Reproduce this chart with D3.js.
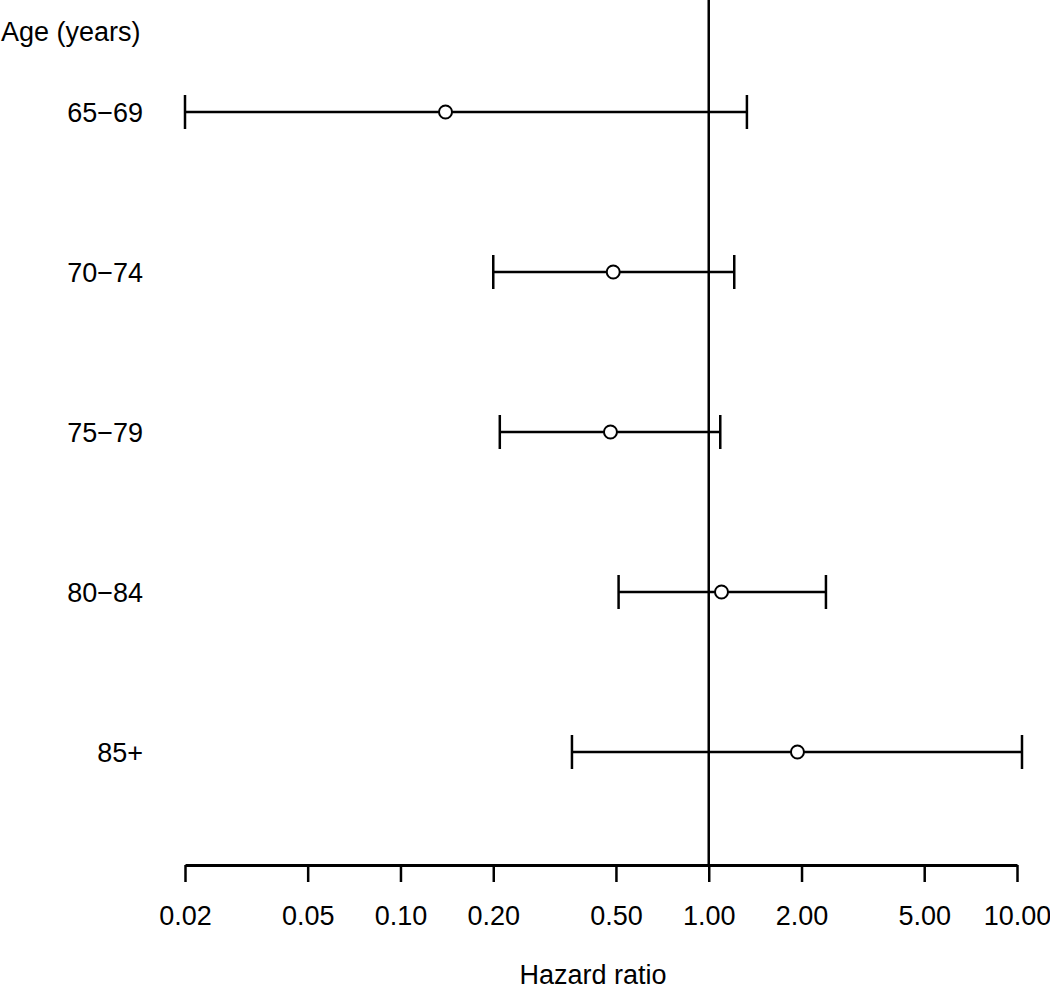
<!DOCTYPE html>
<html>
<head>
<meta charset="utf-8">
<script src="https://d3js.org/d3.v7.min.js"></script>
<style>
  body { margin: 0; background: #fff; }
  svg { display: block; font-family: "Liberation Sans", Arial, sans-serif; }
</style>
</head>
<body>
<div id="chart"></div>
<script>
const groups = ["65\u221269", "70\u221274", "75\u221279", "80\u221284", "85+"];
const hr     = [0.14, 0.49, 0.48, 1.10, 1.94];
const lower  = [0.02, 0.20, 0.21, 0.51, 0.36];
const upper  = [1.33, 1.21, 1.09, 2.40, 10.38];
const ticks  = [0.02, 0.05, 0.10, 0.20, 0.50, 1.00, 2.00, 5.00, 10.00];

const width = 1050, height = 993;
const fontSize = 27;

const svg = d3.select("#chart").append("svg")
    .attr("width", width)
    .attr("height", height);

const x = d3.scaleLog()
    .domain([0.02, 10])
    .range([185, 1017]);

const y = d3.scaleLinear()
    .domain([0, groups.length - 1])
    .range([112, 752]);

const axisY = 865;

// reference line at HR = 1
svg.append("line")
    .attr("x1", x(1)).attr("x2", x(1))
    .attr("y1", 0).attr("y2", axisY)
    .attr("stroke", "#000")
    .attr("stroke-width", 2.5);

// x axis
const axis = svg.append("g")
    .attr("transform", `translate(0,${axisY})`)
    .call(d3.axisBottom(x)
        .tickValues(ticks)
        .tickFormat(d3.format(".2f"))
        .tickSize(17)
        .tickPadding(24)
        .tickSizeOuter(0));

axis.select(".domain")
    .attr("stroke-width", 3);
axis.selectAll(".tick line")
    .attr("stroke-width", 2.5);
axis.selectAll(".tick text")
    .attr("font-size", fontSize)
    .attr("font-family", "Liberation Sans, Arial, sans-serif")
    .attr("fill", "#000");

svg.append("text")
    .attr("x", 593)
    .attr("y", 984)
    .attr("text-anchor", "middle")
    .attr("font-size", fontSize)
    .text("Hazard ratio");

svg.append("text")
    .attr("x", 1)
    .attr("y", 41)
    .attr("font-size", fontSize)
    .text("Age (years)");

// row labels
svg.append("g")
    .selectAll("text")
    .data(groups)
    .enter().append("text")
    .attr("x", 143)
    .attr("y", (d, i) => y(i))
    .attr("dy", "0.36em")
    .attr("text-anchor", "end")
    .attr("font-size", fontSize)
    .text(d => d);

const rows = groups.map((g, i) => ({ g, i, hr: hr[i], lo: lower[i], hi: upper[i] }));

const bars = svg.append("g")
    .attr("stroke", "#000")
    .attr("stroke-width", 2.5)
    .selectAll("g")
    .data(rows)
    .enter().append("g");

bars.append("line")
    .attr("x1", d => x(d.lo)).attr("x2", d => x(d.hi))
    .attr("y1", d => y(d.i)).attr("y2", d => y(d.i));

bars.append("line")
    .attr("x1", d => x(d.lo)).attr("x2", d => x(d.lo))
    .attr("y1", d => y(d.i) - 17).attr("y2", d => y(d.i) + 17);

bars.append("line")
    .attr("x1", d => x(d.hi)).attr("x2", d => x(d.hi))
    .attr("y1", d => y(d.i) - 17).attr("y2", d => y(d.i) + 17);

bars.append("circle")
    .attr("cx", d => x(d.hr))
    .attr("cy", d => y(d.i))
    .attr("r", 6.5)
    .attr("fill", "#fff")
    .attr("stroke-width", 2);
</script>
</body>
</html>
